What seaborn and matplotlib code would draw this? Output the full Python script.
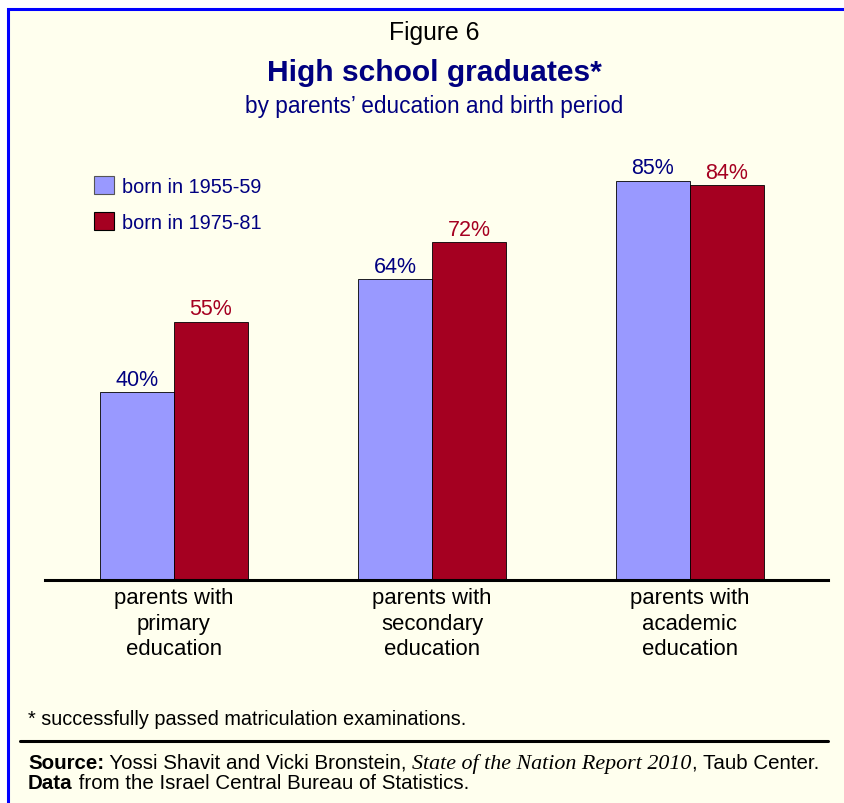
import matplotlib
matplotlib.use("Agg")
import matplotlib.pyplot as plt
import seaborn as sns
import pandas as pd
from matplotlib.patches import Rectangle, Patch
from matplotlib.lines import Line2D

categories = ["parents with\nprimary\neducation",
              "parents with\nsecondary\neducation",
              "parents with\nacademic\neducation"]
series_names = ["born in 1955-59", "born in 1975-81"]
values_1955 = [40, 64, 85]
values_1975 = [55, 72, 84]

BLUE = "#9999FF"
RED = "#A50021"
NAVY = "#000080"
BG = "#FFFFEE"

sns.set_theme(style="white")
plt.rcParams["font.family"] = ["Liberation Sans", "DejaVu Sans"]

df = pd.DataFrame({
    "category": categories * 2,
    "period": [series_names[0]] * 3 + [series_names[1]] * 3,
    "value": values_1955 + values_1975,
})

W, H = 844, 804
fig = plt.figure(figsize=(W / 100, H / 100), dpi=100, facecolor="white")

# framed panel
fig.patches.append(Rectangle((8 / W, -0.05), 1.1, (H - 10) / H + 0.05,
                             transform=fig.transFigure, facecolor=BG,
                             edgecolor="#0000FF", linewidth=2.2, zorder=-5))

ax_left, ax_right = 45, 828
ax_bottom, ax_top = 581, 111
ax = fig.add_axes([ax_left / W, (H - ax_bottom) / H,
                   (ax_right - ax_left) / W, (ax_bottom - ax_top) / H])
ax.set_facecolor("none")
ax.set_zorder(2)

sns.barplot(data=df, x="category", y="value", hue="period",
            palette=[BLUE, RED], saturation=1, width=0.574,
            edgecolor="black", linewidth=0.6, ax=ax, legend=False)

ax.set_ylim(0, 100)
ax.set_xlim(-0.5, 2.535)
ax.set_xlabel("")
ax.set_ylabel("")
ax.set_yticks([])
for s in ["top", "right", "left"]:
    ax.spines[s].set_visible(False)
ax.spines["bottom"].set_color("black")
ax.spines["bottom"].set_linewidth(2.2)
ax.tick_params(axis="x", length=0, pad=5, labelsize=15.9, colors="black")
for t in ax.get_xticklabels():
    t.set_linespacing(1.29)

label_colors = [NAVY, RED]
for cont, c in zip(ax.containers, label_colors):
    ax.bar_label(cont, labels=[f"{int(round(v.get_height()))}%" for v in cont],
                 color=c, fontsize=15.5, padding=1.5)

# legend
handles = [Patch(facecolor=BLUE, edgecolor="#555555", linewidth=0.8),
           Patch(facecolor=RED, edgecolor="black", linewidth=0.8)]
leg = fig.legend(handles, series_names, loc="upper left",
                 bbox_to_anchor=(94 / W, 1 - 177 / H), frameon=False,
                 fontsize=14.3, handlelength=1.0, handleheight=1.0,
                 handletextpad=0.4, labelspacing=0.82, borderaxespad=0,
                 borderpad=0)
for t in leg.get_texts():
    t.set_color(NAVY)

# titles
cx = 434.5 / W
fig.text(cx, 1 - 33 / H, "Figure 6", ha="center", va="center",
         fontsize=17.8, color="black")
fig.text(cx, 1 - 73 / H, "High school graduates*", ha="center",
         va="center", fontsize=21.6, fontweight="bold", color=NAVY)
fig.text(cx, 1 - 107 / H, "by parents\u2019 education and birth period",
         ha="center", va="center", fontsize=16.3, color=NAVY)

# footnotes
fig.text(28 / W, 1 - 720 / H, "* successfully passed matriculation examinations.",
         ha="left", va="center", fontsize=14.3, color="black")
fig.add_artist(Line2D([20 / W, 828 / W], [1 - 742 / H, 1 - 742 / H],
                      transform=fig.transFigure, color="black", linewidth=2.2))


def run_text(x_px, y_px, pieces):
    fig.canvas.draw()
    r = fig.canvas.get_renderer()
    x = x_px
    for txt, kw in pieces:
        opts = dict(ha="left", va="baseline", fontsize=14.75, color="black")
        opts.update(kw)
        t = fig.text(x / W, 1 - y_px / H, txt, **opts)
        bb = t.get_window_extent(renderer=r)
        x += bb.width


run_text(28, 769, [("Source:", dict(fontweight="bold")),
                   (" Yossi Shavit and Vicki Bronstein, ", {}),
                   ("State of the Nation Report 2010", dict(family=["Liberation Serif"], style="italic", fontsize=15.8)),
                   (", Taub Center.", {})])
run_text(28, 789, [("Data", dict(fontweight="bold")),
                   (" from the Israel Central Bureau of Statistics.", {})])

fig.savefig("out.png", dpi=100, facecolor="white")
